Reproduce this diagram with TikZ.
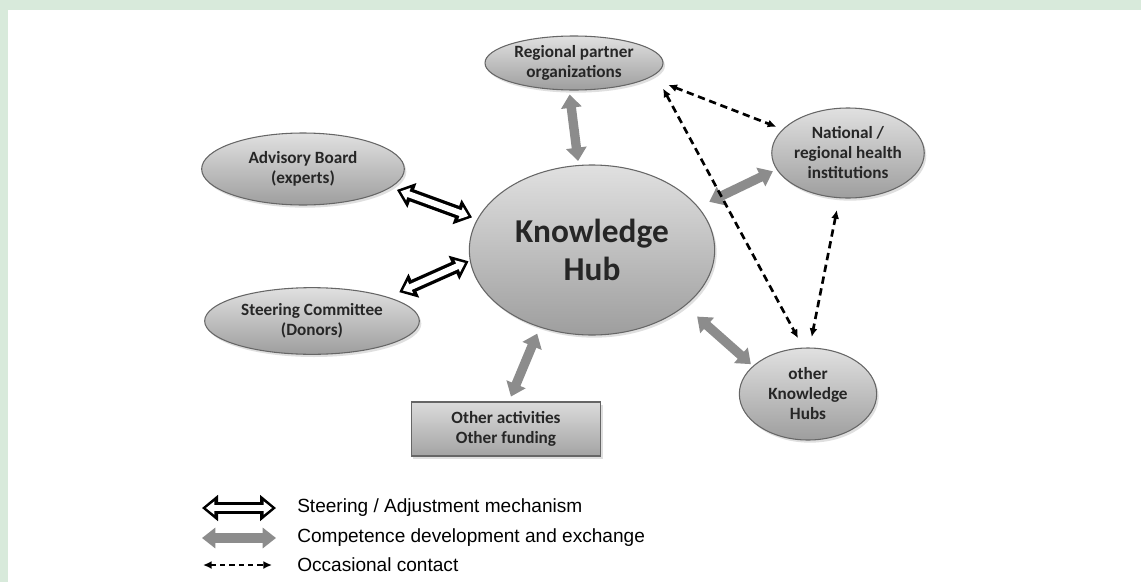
\documentclass[tikz,border=0pt]{standalone}
\usepackage{fontspec}
\setmainfont{Carlito}
\newfontfamily\legendfont{Liberation Sans}
\usetikzlibrary{shapes.geometric, arrows.meta, shadows}

\definecolor{framegreen}{RGB}{216,234,219}
\definecolor{arrowgray}{RGB}{140,140,140}

\tikzset{
    bubble/.style={ellipse, draw=black!60, line width=0.8pt,
        top color=black!12, bottom color=black!38,
        drop shadow={shadow xshift=1.5pt, shadow yshift=-2pt, opacity=0.25},
        align=center, inner sep=0pt, text=black!85,
        font=\fontsize{12.9}{15}\selectfont\bfseries},
    panel/.style={rectangle, draw=black!60, line width=0.8pt,
        top color=black!14, bottom color=black!36,
        drop shadow={shadow xshift=1.5pt, shadow yshift=-2pt, opacity=0.25},
        align=center, inner sep=0pt, text=black!85,
        font=\fontsize{12.9}{15}\selectfont\bfseries},
    % hollow double-headed arrow: white arrow laid into a black one
    steer/.style={draw=white, line width=4.5pt,
        {Triangle[width=9.5pt,length=6.2pt,sep=3pt]}-{Triangle[width=9.5pt,length=6.2pt,sep=3pt]},
        preaction={draw=black, line width=9.5pt,
            {Triangle[width=19pt,length=12pt]}-{Triangle[width=19pt,length=12pt]}}},
    comp/.style={line width=7pt, draw=arrowgray,
        {Triangle[width=15pt,length=10pt]}-{Triangle[width=15pt,length=10pt]}},
    contact/.style={line width=2pt, dash pattern=on 5.5pt off 3.5pt,
        {Latex[length=6.5pt,width=6pt]}-{Latex[length=6.5pt,width=6pt]}},
    legtext/.style={anchor=west, inner sep=0pt,
        font=\legendfont\fontsize{14.3}{17}\selectfont}
}

\begin{document}
\begin{tikzpicture}[x=0.75pt, y=-0.75pt]  % one unit = one pixel, y pointing down
    % Frame
    \useasboundingbox (0,0) rectangle (1141,582);
    \fill[framegreen] (0,0) rectangle (1141,582);
    \fill[white] (8,10) rectangle (1141,582);

    % Partners around the hub
    \node[bubble, minimum width=133.5pt, minimum height=40.5pt] (regional) at (574,63)
        {Regional partner\\organizations};
    \node[bubble, minimum width=152pt, minimum height=54pt] (advisory) at (303,169)
        {Advisory Board\\(experts)};
    \node[bubble, minimum width=161pt, minimum height=50pt] (steering) at (312,321)
        {Steering Committee\\(Donors)};
    \node[bubble, minimum width=109pt, minimum height=67.5pt] (national) at (848,153)
        {National /\\regional health\\institutions};
    \node[bubble, minimum width=103pt, minimum height=69pt] (otherhubs) at (808,394)
        {other\\Knowledge\\Hubs};
    \node[panel, minimum width=142pt, minimum height=40.5pt] (activities) at (506,429)
        {Other activities\\Other funding};

    % Knowledge hub
    \node[bubble, minimum width=184pt, minimum height=127.5pt,
        font=\fontsize{25}{28.5}\selectfont\bfseries] (hub) at (592,250)
        {Knowledge\\Hub};

    % Steering / adjustment
    \draw[steer, shorten <=5pt, shorten >=4pt] (advisory.-12) -- (hub.165);
    \draw[steer, shorten <=9pt, shorten >=1pt] (steering.north east) -- (hub.185);

    % Competence development and exchange
    \draw[comp, shorten <=3pt, shorten >=3pt] (regional.-100) -- (hub.99);
    \draw[comp, shorten <=9pt, shorten >=3pt] (hub.22) -- (national.193);
    \draw[comp, shorten <=12pt, shorten >=2pt] (hub.-31) -- (otherhubs.153);
    \draw[comp, shorten <=5pt, shorten >=4pt] (hub.236) -- (activities.84);

    % Occasional contact
    \draw[contact, shorten <=15pt, shorten >=5pt] (regional.-11) -- (national.160);
    \draw[contact, shorten <=12pt, shorten >=8pt] (regional.-8) -- (otherhubs.96);
    \draw[contact, shorten <=9pt, shorten >=8pt] (national.259) -- (otherhubs.88);

    % Legend
    \coordinate (steerA) at (202,508);
    \coordinate (steerB) at (276,508);
    \coordinate (compA) at (202,538);
    \coordinate (compB) at (276,538);
    \coordinate (contactA) at (203,565);
    \coordinate (contactB) at (272,565);
    \draw[steer] (steerA) -- (steerB);
    \draw[comp] (compA) -- (compB);
    \draw[contact, line width=1.4pt, dash pattern=on 4pt off 3pt] (contactA) -- (contactB);
    \node[legtext] (legsteer) at (297,508) {Steering / Adjustment mechanism};
    \node[legtext] (legcomp) at (297,538) {Competence development and exchange};
    \node[legtext] (legcontact) at (297,565) {Occasional contact};
\end{tikzpicture}
\end{document}
